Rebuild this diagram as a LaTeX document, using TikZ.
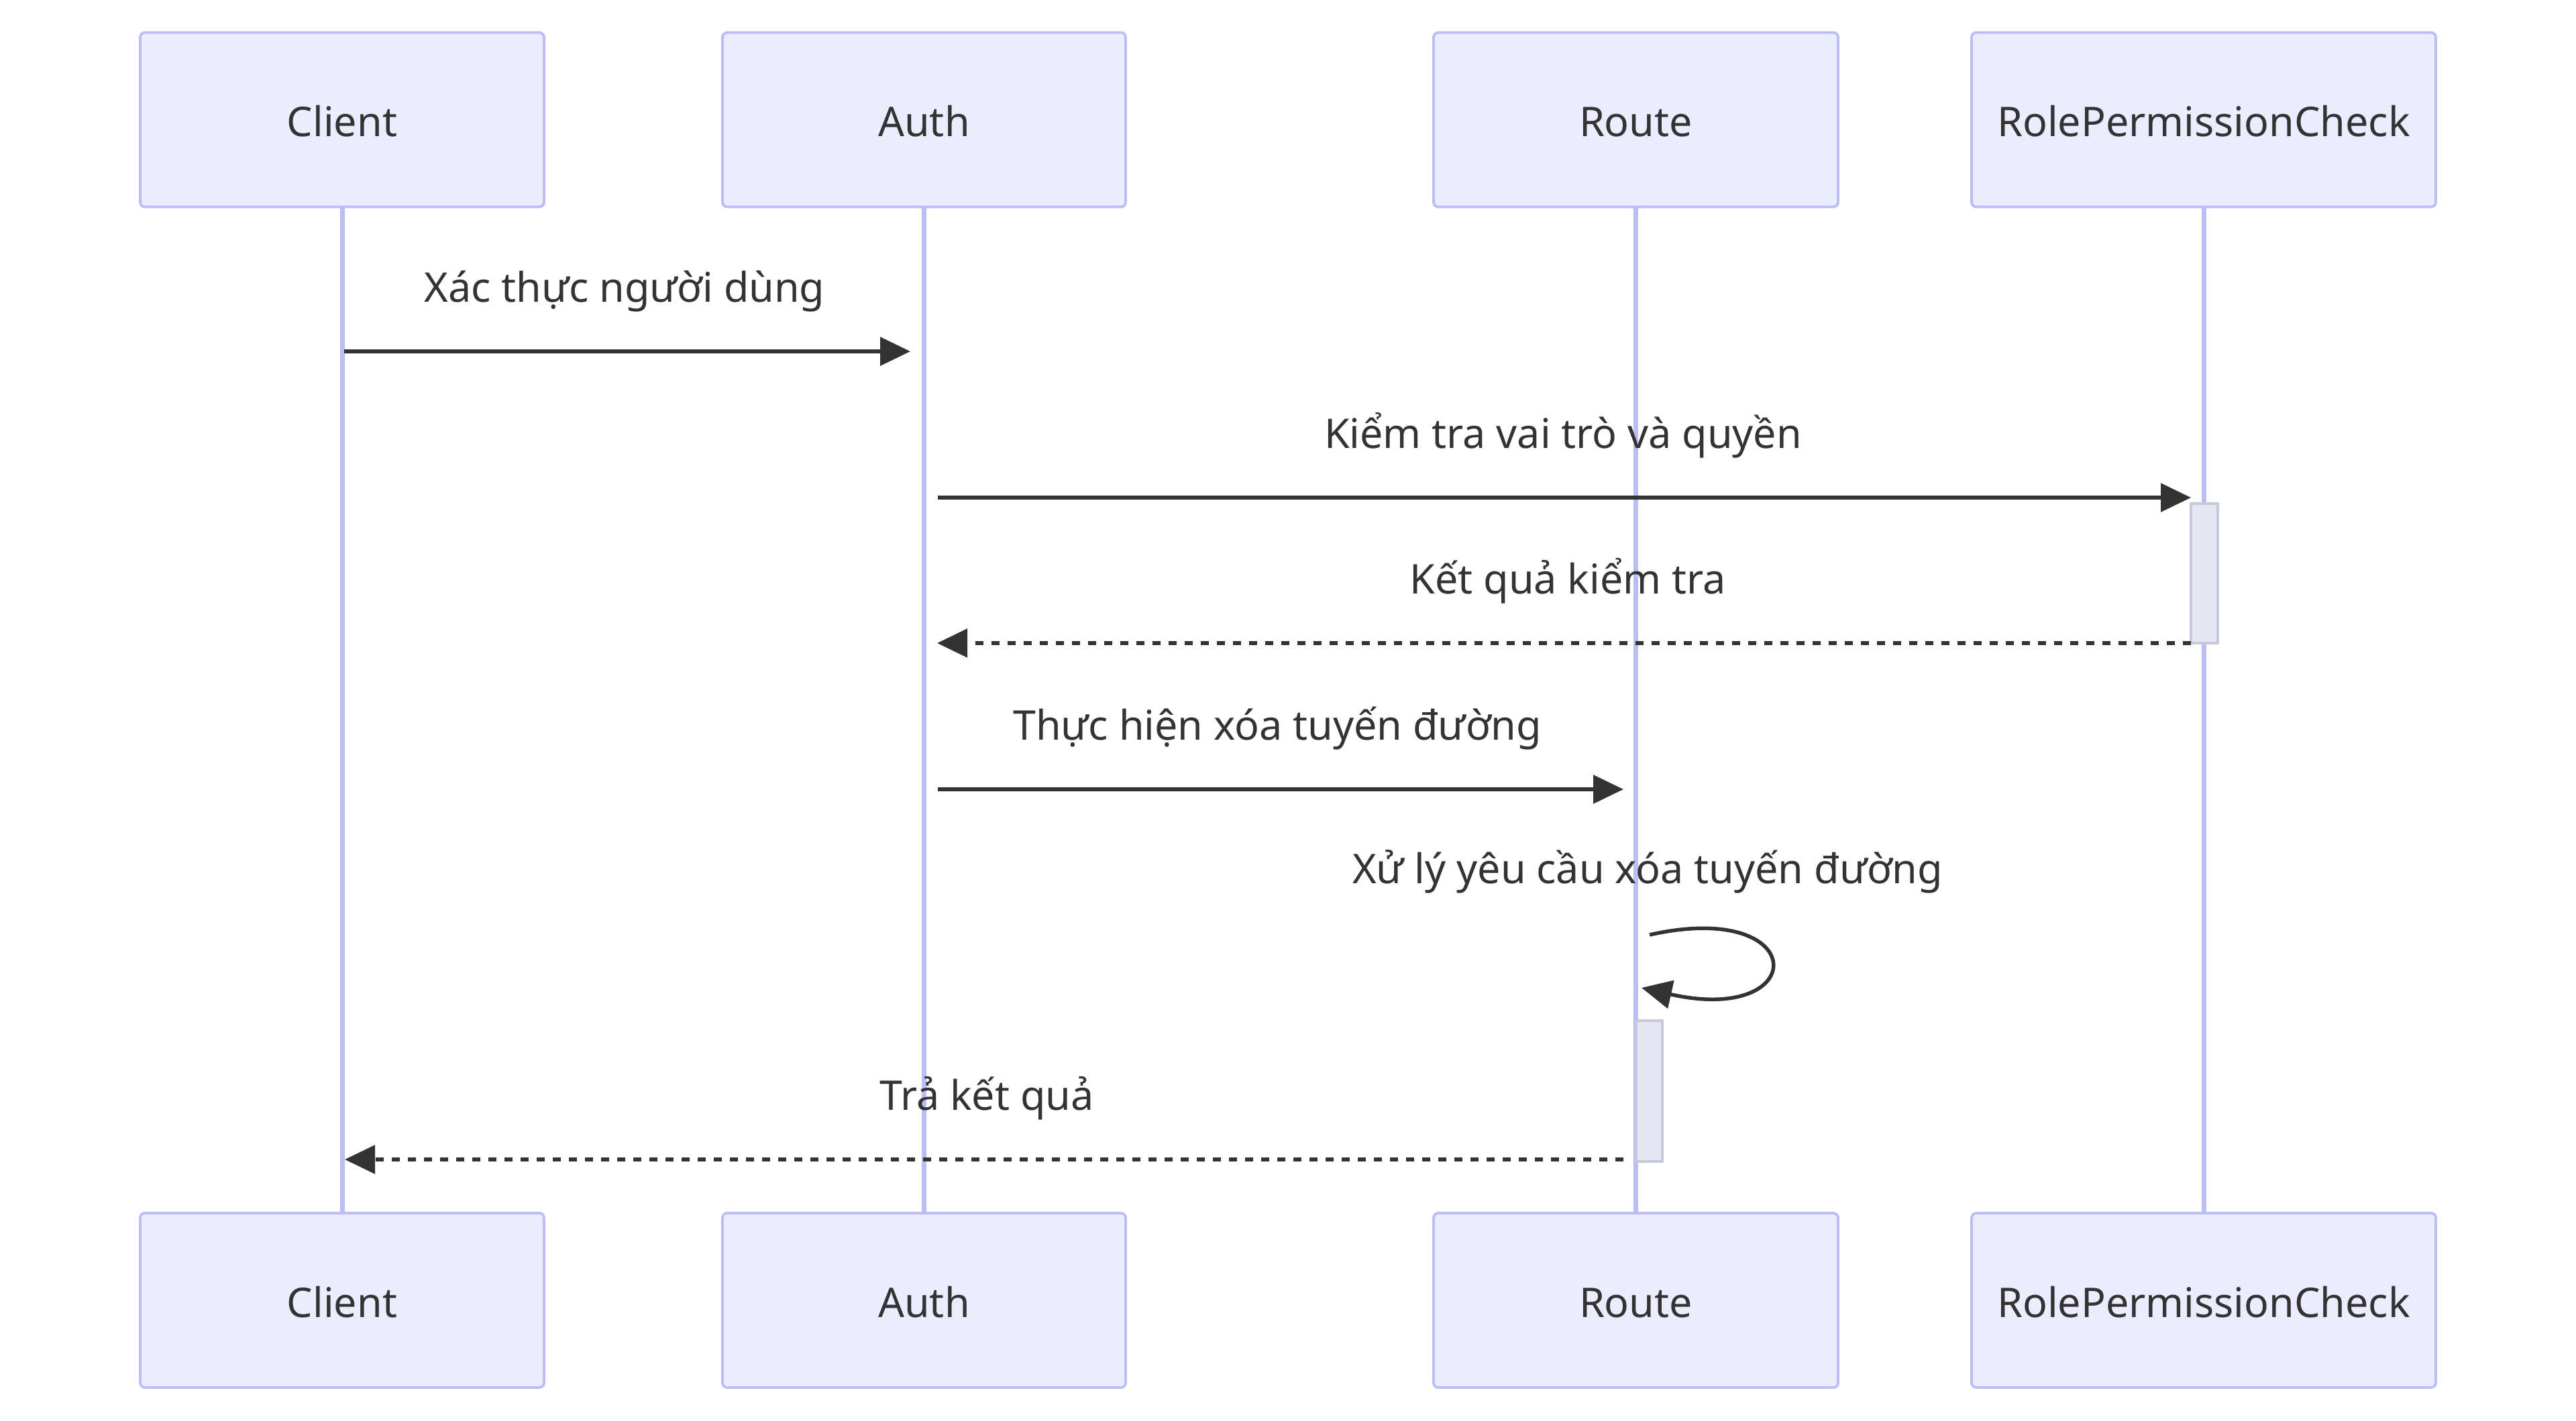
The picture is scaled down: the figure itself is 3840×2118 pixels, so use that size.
\documentclass[tikz,border=0pt]{standalone}
\usepackage{fontspec}
\setmainfont{Noto Sans}
\usetikzlibrary{arrows.meta}
\definecolor{actfill}{HTML}{ECECFF}
\definecolor{actline}{HTML}{BDBDF6}
\definecolor{ink}{HTML}{333333}
\definecolor{actvfill}{HTML}{E6E6F0}
\definecolor{actvline}{HTML}{C8C8DC}
\tikzset{
  actor/.style={draw=actline, fill=actfill, line width=3.8pt, rounded corners=7pt,
    minimum height=260pt, inner sep=0pt, text=ink, text height=50pt, text depth=0pt,
    font=\fontsize{61}{73}\selectfont},
  life/.style={draw=actline, line width=7pt},
  activ/.style={draw=actvline, fill=actvfill, line width=3.8pt, inner sep=0pt},
  msg/.style={draw=ink, line width=5.5pt, -{Triangle[length=45pt,width=42pt]}},
  reply/.style={msg, dash pattern=on 12pt off 12pt},
  lbl/.style={anchor=base, text=ink, inner sep=0pt, font=\fontsize{61}{73}\selectfont}
}
\begin{document}
\begin{tikzpicture}[x=1pt,y=-1pt]
\useasboundingbox (0,0) rectangle (3840,2118);
% actors top
\node[actor, minimum width=602pt] (ct) at (510,178.5) {Client};
\node[actor, minimum width=601pt] (at) at (1377.5,178.5) {Auth};
\node[actor, minimum width=603pt] (rt) at (2438.5,178.5) {Route};
\node[actor, minimum width=692pt] (pt) at (3285,178.5) {RolePermissionCheck};
% actors bottom
\node[actor, minimum width=602pt] (cb) at (510,1939) {Client};
\node[actor, minimum width=601pt] (ab) at (1377.5,1939) {Auth};
\node[actor, minimum width=603pt] (rb) at (2438.5,1939) {Route};
\node[actor, minimum width=692pt] (pb) at (3285,1939) {RolePermissionCheck};
% lifelines
\draw[life] (ct.south) -- (cb.north);
\draw[life] (at.south) -- (ab.north);
\draw[life] (rt.south) -- (rb.north);
\draw[life] (pt.south) -- (pb.north);
% activations
\node[activ, minimum width=40pt, minimum height=208pt] (a1) at (3286,855) {};
\node[activ, minimum width=39pt, minimum height=210pt] (a2) at (2458.5,1627) {};
% message endpoints
\coordinate (m1s) at (513,524);
\coordinate (m1e) at (1357,524);
\coordinate (m2s) at (1398,742);
\coordinate (m2e) at (3266,742);
\coordinate (m3s) at (3266,959);
\coordinate (m3e) at (1397,959);
\coordinate (m4s) at (1398,1177);
\coordinate (m4e) at (2420,1177);
\coordinate (m5s) at (2459,1394);
\coordinate (m5e) at (2447,1473);
\coordinate (m6s) at (2420,1729);
\coordinate (m6e) at (514,1729);
% messages
\draw[msg] (m1s) -- (m1e);
\draw[msg] (m2s) -- (m2e);
\draw[reply] (m3s) -- (m3e);
\draw[msg] (m4s) -- (m4e);
\draw[msg] (m5s) .. controls (2700,1340) and (2700,1530) .. (m5e);
\draw[reply] (m6s) -- (m6e);
% labels
\node[lbl] (l1) at (931,450) {Xác thực người dùng};
\node[lbl] (l2) at (2330,668) {Kiểm tra vai trò và quyền};
\node[lbl] (l3) at (2337,885) {Kết quả kiểm tra};
\node[lbl] (l4) at (1904,1103) {Thực hiện xóa tuyến đường};
\node[lbl] (l5) at (2456,1317) {Xử lý yêu cầu xóa tuyến đường};
\node[lbl] (l6) at (1471,1655) {Trả kết quả};
\end{tikzpicture}
\end{document}
